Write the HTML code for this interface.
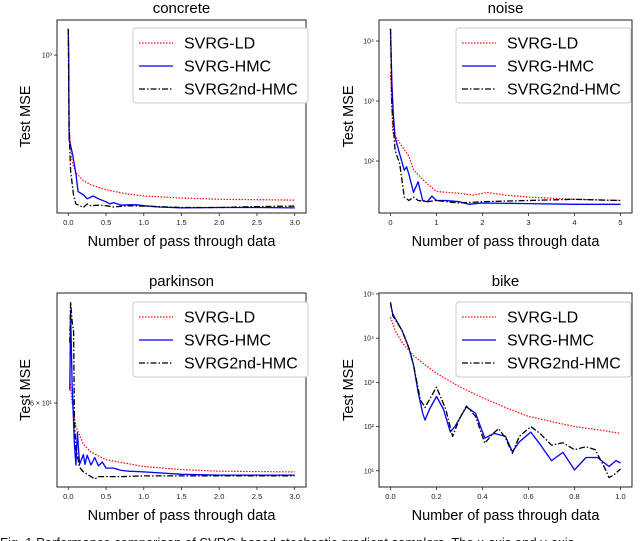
<!DOCTYPE html>
<html><head><meta charset="utf-8">
<style>
html,body{margin:0;padding:0;background:#fff;}
svg{display:block;font-family:"Liberation Sans","DejaVu Sans",sans-serif;}
</style></head>
<body>
<svg id="fig" width="640" height="541" viewBox="0 0 640 541"></svg>
<script>
// ---- data arrays ----
const seriesNames = ["SVRG-LD","SVRG-HMC","SVRG2nd-HMC"];
const concreteX_LD = [0,0.01,0.05,0.1,0.2,0.3,0.5,0.75,1,1.5,2,3];
const concreteY_LD = [1200,500,360,323,300,288,275,265,259,254,251,249];
const concreteX_HMC = [0,0.005,0.01,0.03,0.06,0.1,0.13,0.2,0.25,0.33,0.4,0.5,0.55,0.6,0.7,0.8,0.9,1.0,1.2,1.5,2,2.5,3];
const concreteY_HMC = [1285,1000,443,420,383,320,270,262,252,259,252,245,240,243,237,238,238,236,233,231,232,232,231];
const concreteX_2nd = [0,0.01,0.03,0.07,0.1,0.15,0.2,0.25,0.3,0.4,0.5,0.6,0.8,1.0,1.5,2,2.5,3];
const concreteY_2nd = [1285,500,330,260,240,236,232,240,236,237,236,233,236,235,232,232,234,235];

const noiseX_LD = [0,0.05,0.2,0.4,0.5,0.75,1,1.5,1.8,2.1,2.5,3,4,5];
const noiseY_LD = [3000,300,200,120,71,45,31,29,27,30,27,25,23,22];
const noiseX_HMC = [0,0.03,0.06,0.1,0.2,0.3,0.35,0.4,0.5,0.6,0.7,0.8,0.9,1,1.2,1.5,1.7,2,3,4,5];
const noiseY_HMC = [16000,2000,600,250,130,70,80,60,30,45,22,21,26,22,22,21,19,20,19.5,19,19];
const noiseX_2nd = [0,0.03,0.1,0.2,0.3,0.4,0.5,0.6,0.8,1,1.5,2,3,4,5];
const noiseY_2nd = [16000,800,150,90,25,22,25,22,21,22,20,21,22,23,22];

const parkX_LD = [0.02,0.05,0.1,0.2,0.3,0.5,1,1.5,2,3];
const parkY_LD = [64,60,56.5,54,52.9,51.9,51.0,50.6,50.4,50.3];
const parkX_HMC = [0.02,0.03,0.05,0.08,0.1,0.12,0.15,0.2,0.22,0.25,0.3,0.35,0.4,0.45,0.5,0.6,0.7,0.8,1,1.5,2,3];
const parkY_HMC = [62,76,63,54,51.2,55.6,51.3,52.6,51.3,52.5,51.2,52.2,51.1,51.6,50.8,50.8,50.5,50.4,50.3,50.0,49.9,49.9];
const parkX_2nd = [0.02,0.03,0.05,0.07,0.08,0.1,0.15,0.2,0.3,0.35,0.4,0.5,0.7,1,1.5,2,3];
const parkY_2nd = [70,77.7,74,72,57.4,53.5,50.9,50.3,49.7,49.4,49.7,49.7,49.7,49.8,49.8,49.8,49.8];

const bikeX_LD = [0,0.02,0.05,0.1,0.15,0.2,0.3,0.4,0.5,0.6,0.7,0.8,0.9,1];
const bikeY_LD = [30000,15000,8000,4000,2500,1600,800,450,270,170,130,100,85,70];
const bikeX_HMC = [0,0.01,0.05,0.08,0.1,0.12,0.14,0.15,0.17,0.2,0.23,0.26,0.28,0.33,0.37,0.41,0.45,0.5,0.53,0.56,0.61,0.65,0.7,0.75,0.8,0.85,0.9,0.95,0.98,1];
const bikeY_HMC = [60000,35000,15000,6000,2500,600,200,140,250,480,250,75,100,280,200,55,70,60,27,45,75,40,17,26,10.5,20,20,12.5,17,15];
const bikeX_2nd = [0,0.01,0.05,0.08,0.1,0.13,0.15,0.2,0.24,0.27,0.3,0.33,0.37,0.41,0.44,0.47,0.5,0.53,0.56,0.61,0.65,0.7,0.75,0.8,0.85,0.89,0.93,0.95,0.97,1];
const bikeY_2nd = [65000,32000,15000,6000,2500,400,270,780,250,60,150,290,170,42,65,90,55,25,60,100,70,38,43,30,35,30,12,7,8,11];

const concreteXTicks = [0,0.5,1.0,1.5,2.0,2.5,3.0];
const noiseXTicks = [0,1,2,3,4,5];
const bikeXTicks = [0,0.2,0.4,0.6,0.8,1.0];

const NS="http://www.w3.org/2000/svg";
const svg=document.getElementById('fig');
function mk(tag,attrs,parent){const e=document.createElementNS(NS,tag);for(const k in attrs)e.setAttribute(k,attrs[k]);(parent||svg).appendChild(e);return e;}

const styles=[
 {stroke:"#ff0000",dash:"1.5,1.5",w:1.2},
 {stroke:"#0000ff",dash:"",w:1.3},
 {stroke:"#000000",dash:"6,2,1.5,2",w:1.3}
];

function panel(p){
  const g=mk('g',{});
  
  
  const L=Math.log10;
  const sx=v=>p.x0+(v-p.xmin)/(p.xmax-p.xmin)*(p.x1-p.x0);
  const sy=v=>p.y1-(L(v)-L(p.ymin))/(L(p.ymax)-L(p.ymin))*(p.y1-p.y0);
  const t=mk('text',{x:(p.x0+p.x1)/2,y:p.y0-7,'text-anchor':'middle','font-size':15},g);
  t.textContent=p.name;
  
  const cid='clip-'+p.name;
  const cp=mk('clipPath',{id:cid},g);
  mk('rect',{x:p.x0,y:p.y0,width:p.x1-p.x0,height:p.y1-p.y0},cp);
  p.series.forEach((s,i)=>{
    const pts=s.x.map((xv,j)=>sx(xv).toFixed(1)+','+sy(s.y[j]).toFixed(1)).join(' ');
    const pl=mk('polyline',{points:pts,fill:'none',stroke:styles[i].stroke,'stroke-width':styles[i].w,'stroke-dasharray':styles[i].dash,'stroke-linejoin':'round','clip-path':'url(#'+cid+')'},g);
    
    
  });
  const fr=mk('rect',{x:p.x0,y:p.y0,width:p.x1-p.x0,height:p.y1-p.y0,fill:'none',stroke:'#222','stroke-width':1},g);
  
  p.xticks.forEach(v=>{
    const x=sx(v);
    mk('line',{x1:x,x2:x,y1:p.y1,y2:p.y1+3,stroke:'#222','stroke-width':0.8},g);
    const tl=mk('text',{x:x,y:p.y1+12,'text-anchor':'middle','font-size':7.5,fill:'#222'},g);
    tl.textContent=p.xfmt(v);
    
  });
  p.yticks.forEach((v,i)=>{
    const y=sy(v);
    mk('line',{x1:p.x0-3,x2:p.x0,y1:y,y2:y,stroke:'#222','stroke-width':0.8},g);
    const tl=mk('text',{x:p.x0-5,y:y+2.5,'text-anchor':'end','font-size':7,fill:'#222'},g);
    tl.textContent=p.ylabels[i];
    
  });
  const xl=mk('text',{x:(p.x0+p.x1)/2,y:p.y1+33,'text-anchor':'middle','font-size':14.5},g);
  xl.textContent='Number of pass through data';
  
  const cy=(p.y0+p.y1)/2, cx=p.ylx;
  const yl=mk('text',{x:cx,y:cy,'text-anchor':'middle','font-size':14.5,transform:'rotate(-90 '+cx+' '+cy+')'},g);
  yl.textContent='Test MSE';
  
  const lg=mk('g',{},g);
  
  mk('rect',{x:p.lx,y:p.ly,width:175,height:75,rx:3,fill:'#fff',stroke:'#ccc','stroke-width':1},lg);
  seriesNames.forEach((n,i)=>{
    const yy=p.ly+15+i*23;
    mk('line',{x1:p.lx+6,x2:p.lx+40,y1:yy,y2:yy,stroke:styles[i].stroke,'stroke-width':styles[i].w,'stroke-dasharray':styles[i].dash},lg);
    const tx=mk('text',{x:p.lx+51,y:yy+5.5,'font-size':16},lg);
    tx.textContent=n;
    
  });
}
const f1=v=>v.toFixed(1), f0=v=>v.toFixed(0);
panel({name:'concrete',x0:57,x1:306,y0:20,y1:213,xmin:-0.15,xmax:3.15,ymin:220,ymax:1400,
  xticks:concreteXTicks,xfmt:f1,yticks:[1000],ylabels:['10³'],ylx:30,lx:133,ly:28,
  series:[{x:concreteX_LD,y:concreteY_LD},{x:concreteX_HMC,y:concreteY_HMC},{x:concreteX_2nd,y:concreteY_2nd}]});
panel({name:'noise',x0:379,x1:632,y0:20,y1:213,xmin:-0.25,xmax:5.25,ymin:13.6,ymax:22400,
  xticks:noiseXTicks,xfmt:f0,yticks:[100,1000,10000],ylabels:['10²','10³','10⁴'],ylx:353,lx:456,ly:28,
  series:[{x:noiseX_LD,y:noiseY_LD},{x:noiseX_HMC,y:noiseY_HMC},{x:noiseX_2nd,y:noiseY_2nd}]});
panel({name:'parkinson',x0:57,x1:306,y0:293,y1:487,xmin:-0.15,xmax:3.15,ymin:48.4,ymax:79.5,
  xticks:concreteXTicks,xfmt:f1,yticks:[60],ylabels:['6 × 10¹'],ylx:30,lx:133,ly:302,
  series:[{x:parkX_LD,y:parkY_LD},{x:parkX_HMC,y:parkY_HMC},{x:parkX_2nd,y:parkY_2nd}]});
panel({name:'bike',x0:379,x1:632,y0:293,y1:487,xmin:-0.05,xmax:1.05,ymin:4.3,ymax:105000,
  xticks:bikeXTicks,xfmt:f1,yticks:[10,100,1000,10000,100000],ylabels:['10¹','10²','10³','10⁴','10⁵'],ylx:353,lx:456,ly:302,
  series:[{x:bikeX_LD,y:bikeY_LD},{x:bikeX_HMC,y:bikeY_HMC},{x:bikeX_2nd,y:bikeY_2nd}]});
const cap=mk('text',{x:0,y:547,'font-size':13,fill:'#111','font-family':'Liberation Sans, sans-serif'});
cap.textContent='Fig. 1 Performance comparison of SVRG-based stochastic gradient samplers. The x-axis and y-axis';


</script>
</body></html>
